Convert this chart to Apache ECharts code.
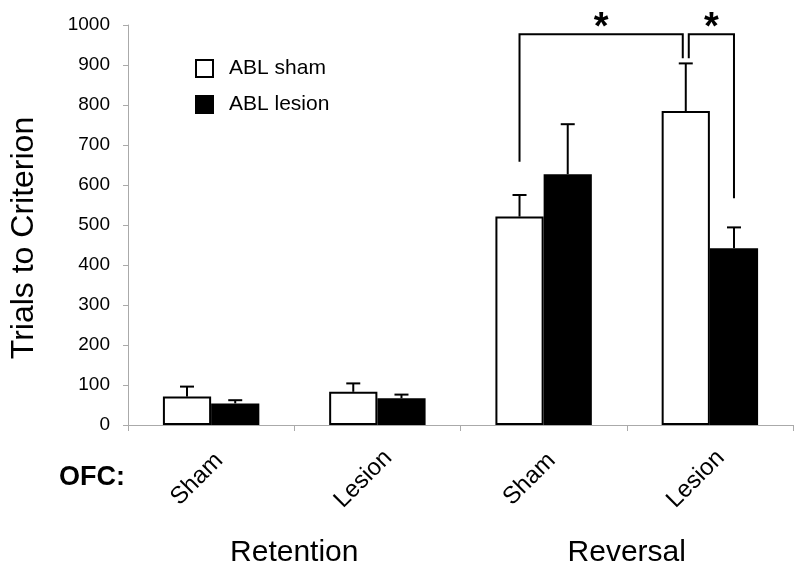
<!DOCTYPE html>
<html><head><meta charset="utf-8">
<script src="https://cdn.jsdelivr.net/npm/echarts@6/dist/echarts.min.js"></script>
<style>html,body{margin:0;padding:0;background:#fff}#main{width:800px;height:573px}</style>
</head><body><div id="main"></div>
<script>
// ---- data ----
const categories = ['Sham', 'Lesion', 'Sham', 'Lesion'];
const phases = ['Retention', 'Reversal'];
const shamMeans = [71, 83, 521, 785];
const shamUpper = [96, 104, 575, 904];
const lesionMeans = [54, 67, 627, 442];
const lesionUpper = [62, 76, 752, 494];
// brackets: [catA, seriesA, yBottomA, catB, seriesB, yBottomB, yTop]
const brackets = [[2, 0, 658, 3, 0, 917, 977], [3, 0, 917, 3, 1, 567, 977]];
const bracketLabels = ['*', '*'];

const FONT = "'Liberation Sans', Arial, sans-serif";
const BAR_FRAC = 0.29;
const legNudge = [[0, -3], [3, 0]];

function errItem(sIdx) {
  return function (params, api) {
    const c = api.value(0), mean = api.value(1), up = api.value(2);
    const band = api.size([1, 0])[0];
    const p0 = api.coord([c, mean]), p1 = api.coord([c, up]);
    const x = p0[0] + (sIdx === 0 ? -1 : 1) * band * BAR_FRAC / 2;
    const cap = 7;
    return { type: 'group', children: [
      { type: 'line', shape: { x1: x, y1: p0[1], x2: x, y2: p1[1] }, style: { stroke: '#000', lineWidth: 2 } },
      { type: 'line', shape: { x1: x - cap, y1: p1[1], x2: x + cap, y2: p1[1] }, style: { stroke: '#000', lineWidth: 2 } }
    ] };
  };
}

function bracketItem(params, api) {
  const i = params.dataIndex;
  const band = api.size([1, 0])[0];
  const off = s => (s === 0 ? -1 : 1) * band * BAR_FRAC / 2;
  const a = api.coord([api.value(0), api.value(2)]);
  const b = api.coord([api.value(3), api.value(5)]);
  const t = api.coord([api.value(0), api.value(6)]);
  const xa = a[0] + off(api.value(1)) + legNudge[i][0];
  const xb = b[0] + off(api.value(4)) + legNudge[i][1];
  const yt = t[1];
  return { type: 'group', children: [
    { type: 'polyline', shape: { points: [[xa, a[1]], [xa, yt], [xb, yt], [xb, b[1]]] },
      style: { stroke: '#000', lineWidth: 2, fill: null } },
    { type: 'text', x: (xa + xb) / 2, y: yt - 6,
      style: { text: bracketLabels[i], fontSize: 38, fontWeight: 'bold', fontFamily: FONT, fill: '#000', align: 'center', verticalAlign: 'middle' } }
  ] };
}

const chart = echarts.init(document.getElementById('main'));
chart.setOption({
  animation: false,
  backgroundColor: '#fff',
  textStyle: { fontFamily: FONT },
  grid: { left: 127, right: 7, top: 25, bottom: 148 },
  legend: {
    data: ['ABL sham', 'ABL lesion'], orient: 'vertical', left: 195, top: 58, padding: 0,
    icon: 'rect', itemWidth: 17, itemHeight: 17, itemGap: 15,
    textStyle: { fontSize: 21, color: '#000', fontFamily: FONT, padding: [0, 0, 0, 11] }
  },
  xAxis: [{
    type: 'category', data: categories,
    axisLine: { lineStyle: { color: '#aaa', width: 1 } },
    axisTick: { show: true, length: 6, lineStyle: { color: '#aaa' } },
    axisLabel: { rotate: 45, fontSize: 24, color: '#000', margin: 40, fontFamily: FONT,
      align: 'center', verticalAlign: 'middle', padding: [0, 40, 0, 0] }
  }, {
    type: 'category', data: phases, position: 'bottom', offset: 101,
    axisLine: { show: false }, axisTick: { show: false },
    axisLabel: { fontSize: 30, color: '#000', margin: 12, fontFamily: FONT }
  }],
  yAxis: {
    type: 'value', min: 0, max: 1000, interval: 100,
    name: 'Trials to Criterion', nameLocation: 'middle', nameGap: 88,
    nameTextStyle: { fontSize: 32, color: '#000', fontFamily: FONT, padding: [0, 26, 0, 0] },
    axisLine: { show: true, lineStyle: { color: '#aaa', width: 1 } },
    axisTick: { show: true, length: 5, lineStyle: { color: '#aaa' } },
    splitLine: { show: false },
    axisLabel: { fontSize: 19, color: '#000', margin: 18, fontFamily: FONT, formatter: v => String(v) }
  },
  graphic: [{
    type: 'text', left: 59, top: 464,
    style: { text: 'OFC:', fontSize: 27, fontWeight: 'bold', fill: '#000', fontFamily: FONT }
  }],
  series: [
    { name: 'ABL sham', type: 'bar', data: shamMeans, barGap: '0%', barCategoryGap: '42%',
      itemStyle: { color: '#fff', borderColor: '#000', borderWidth: 2 } },
    { name: 'ABL lesion', type: 'bar', data: lesionMeans,
      itemStyle: { color: '#000', borderColor: '#000', borderWidth: 2 } },
    { type: 'custom', renderItem: errItem(0), data: shamMeans.map((v, i) => [i, v, shamUpper[i]]),
      encode: { x: 0, y: [1, 2] }, z: 3 },
    { type: 'custom', renderItem: errItem(1), data: lesionMeans.map((v, i) => [i, v, lesionUpper[i]]),
      encode: { x: 0, y: [1, 2] }, z: 3 },
    { type: 'custom', renderItem: bracketItem, data: brackets, encode: { x: 0, y: [2, 5, 6] }, z: 3 }
  ]
});
</script></body></html>
